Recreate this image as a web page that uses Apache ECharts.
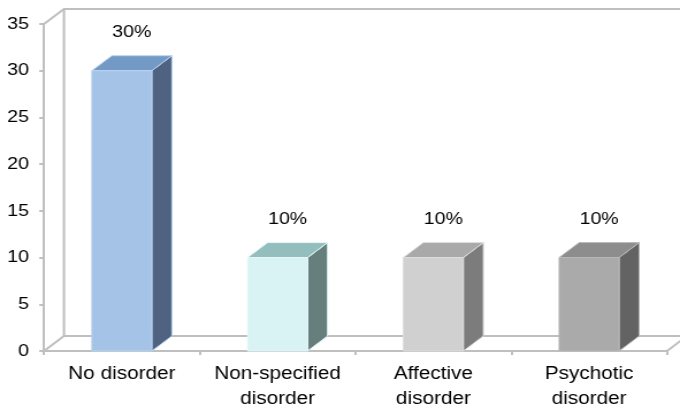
<!DOCTYPE html>
<html>
<head>
<meta charset="utf-8">
<script src="https://cdn.jsdelivr.net/npm/echarts@6/dist/echarts.min.js"></script>
<style>
html,body{margin:0;padding:0;background:#fff;overflow:hidden;}
#c{width:591px;height:412px;transform:scaleX(1.1506);transform-origin:0 0;}
</style>
</head>
<body>
<div id="c"></div>
<script>
// ---- data ----
const categories = ['No disorder', 'Non-specified\ndisorder', 'Affective\ndisorder', 'Psychotic\ndisorder'];
const values = [30, 10, 10, 10];
const valueLabels = ['30%', '10%', '10%', '10%'];
const yMin = 0;
const yMax = 35;
const yInterval = 5;

// ---- styles ----
const palette = [
  {front:'#A5C3E7', top:'#7399C5', side:'#4F6380', edge:'#B8D3F2'},
  {front:'#D9F2F4', top:'#94BEBD', side:'#667F7D', edge:'#E3F7F8'},
  {front:'#D0D0D0', top:'#A9A9A9', side:'#7C7C7C', edge:'#DCDCDC'},
  {front:'#AAAAAA', top:'#8D8D8D', side:'#636363', edge:'#B9B9B9'}
];
const DX = 17.4, DY = 15;
const FONT = '"Liberation Sans", Arial, sans-serif';
const LINE = '#BFBFBF';

const chart = echarts.init(document.getElementById('c'), null, {renderer:'canvas'});

function renderWalls(params, api) {
  const cs = params.coordSys;
  const L = cs.x, T = cs.y, R = cs.x + cs.width, B = cs.y + cs.height;
  const st = {stroke: LINE, lineWidth: 2, fill: null};
  return {type:'group', children:[
    {type:'polyline', shape:{points:[[L,T],[L+DX,T-DY],[R+DX+40,T-DY]]}, style:st},
    {type:'polyline', shape:{points:[[L+DX,T-DY],[L+DX,B-DY],[R+DX+40,B-DY]]}, style:st},
    {type:'polyline', shape:{points:[[L,B],[L+DX,B-DY]]}, style:st},
    {type:'polyline', shape:{points:[[R,B],[R+DX,B-DY]]}, style:st}
  ]};
}

function renderBar(params, api) {
  const idx = api.value(0);
  const v = api.value(1);
  const top = api.coord([idx, v]);
  const base = api.coord([idx, 0]);
  const band = api.size([1, 0])[0];
  const w = band * 0.385;
  const x0 = top[0] - w / 2, x1 = top[0] + w / 2;
  const yt = top[1], yb = base[1];
  const c = palette[idx];
  return {type:'group', children:[
    {type:'polygon', shape:{points:[[x1,yt],[x1+DX,yt-DY],[x1+DX,yb-DY],[x1,yb]]},
      style:{fill:c.side, stroke:c.edge, lineWidth:1}},
    {type:'polygon', shape:{points:[[x0,yt],[x0+DX,yt-DY],[x1+DX,yt-DY],[x1,yt]]},
      style:{fill:c.top, stroke:c.edge, lineWidth:1}},
    {type:'rect', shape:{x:x0, y:yt, width:w, height:yb-yt},
      style:{fill:c.front, stroke:c.edge, lineWidth:1}},
    {type:'text', style:{text: valueLabels[idx], x: top[0] + DX / 2, y: yt - 38,
      align:'center', verticalAlign:'middle', fontSize:17, fontFamily:FONT, fill:'#000'}}
  ]};
}

chart.setOption({
  animation: false,
  backgroundColor: '#fff',
  grid: {left: 38.2, right: 11.3, top: 24, bottom: 59, containLabel: false},
  xAxis: {
    type: 'category',
    data: categories,
    boundaryGap: true,
    axisLine: {show: true, lineStyle: {color: LINE, width: 2}},
    axisTick: {show: true, length: 4, alignWithLabel: false, lineStyle: {color: LINE, width: 2}},
    axisLabel: {color: '#000', fontSize: 18, fontFamily: FONT, lineHeight: 25, margin: 11, interval: 0},
    splitLine: {show: false}
  },
  yAxis: {
    type: 'value',
    min: yMin, max: yMax, interval: yInterval,
    axisLine: {show: true, lineStyle: {color: LINE, width: 2}},
    axisTick: {show: true, length: 4, lineStyle: {color: LINE, width: 2}},
    axisLabel: {color: '#000', fontSize: 17, fontFamily: FONT, margin: 13},
    splitLine: {show: false}
  },
  series: [
    {type:'custom', z:1, silent:true, renderItem: renderWalls, data: [[0, 0]], clip:false},
    {type:'custom', z:3, renderItem: renderBar, clip:false,
      data: values.map((v, i) => [i, v])}
  ]
});
</script>
</body>
</html>
